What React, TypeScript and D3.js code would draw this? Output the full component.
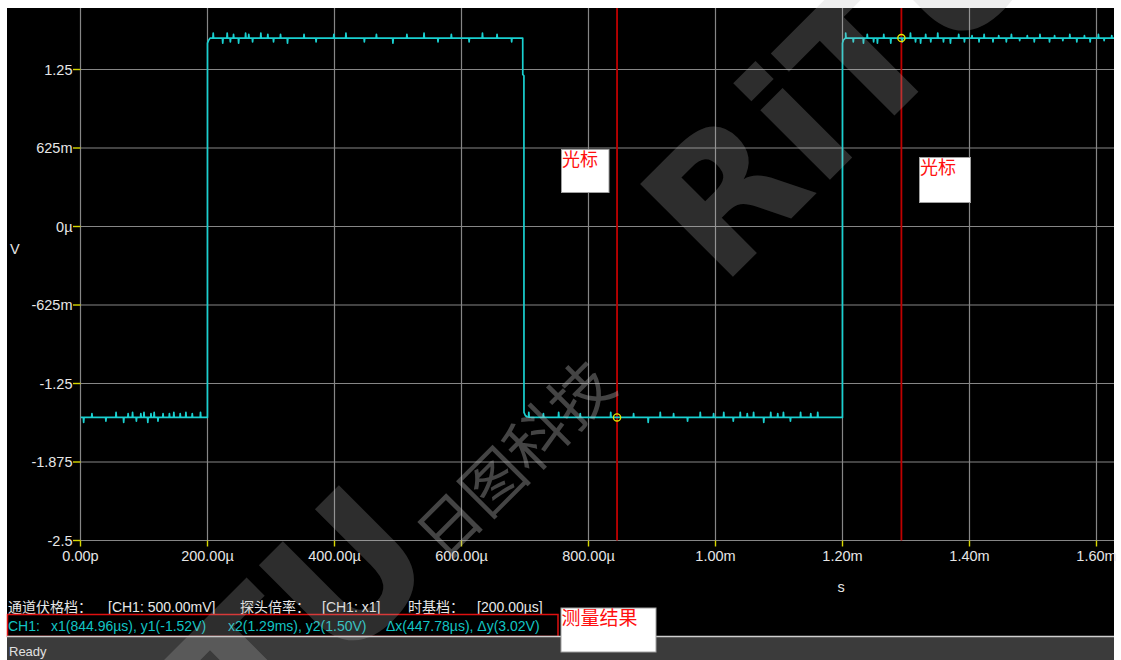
import React from "react";
import * as d3 from "d3";

const W = 1121;
const H = 660;

// Time axis (µs) and its captions
const timeTicks = [0, 200, 400, 600, 800, 1000, 1200, 1400, 1600];
const timeTickLabels = ["0.00p", "200.00µ", "400.00µ", "600.00µ", "800.00µ", "1.00m", "1.20m", "1.40m", "1.60m"];

// Voltage axis (V) and its captions
const voltTicks = [1.25, 0.625, 0, -0.625, -1.25, -1.875, -2.5];
const voltTickLabels = ["1.25", "625m", "0µ", "-625m", "-1.25", "-1.875", "-2.5"];

// CH1 square wave corner points: time (µs) and level (V)
const edgeTimes = [0, 199.9, 200.0, 201.5, 204, 696.4, 696.5, 698.3, 698.4, 700.5, 703, 711, 1199.9, 1200.0, 1201.5, 1205, 1630];
const edgeVolts = [-1.52, -1.52, 1.46, 1.48, 1.5, 1.5, 1.21, 1.2, -1.48, -1.505, -1.515, -1.52, -1.52, 1.46, 1.485, 1.5, 1.5];

// Short glitches riding on the flat parts: time (µs) and peak level (V)
const glitchTimes = [
  5, 18, 40, 56, 68, 75, 82, 88, 95, 100, 106, 111, 116, 122, 130, 140, 147, 157, 166, 176, 189,
  209, 224, 231, 236, 241, 249, 260, 265, 271, 284, 295, 304, 315, 326, 352, 371, 399, 418, 447, 466, 492, 514, 541, 563, 584, 612, 633, 656, 679,
  706, 729, 753, 787, 835, 871, 894, 913, 934, 956, 976, 997, 1013, 1028, 1039, 1050, 1060, 1076, 1087, 1098, 1107, 1118, 1134, 1150, 1161,
  1205, 1217, 1233, 1239, 1249, 1255, 1265, 1276, 1294, 1307, 1315, 1323, 1331, 1339, 1350, 1359, 1370, 1383, 1392, 1404, 1415, 1423, 1437,
  1446, 1458, 1466, 1479, 1491, 1502, 1511, 1526, 1534, 1547, 1558, 1569, 1581, 1590, 1603, 1612, 1624,
];
const glitchVolts = [
  -1.56, -1.49, -1.55, -1.48, -1.56, -1.49, -1.48, -1.55, -1.49, -1.48, -1.56, -1.49, -1.48, -1.55, -1.49, -1.49, -1.48, -1.49, -1.48, -1.49, -1.48,
  1.54, 1.46, 1.54, 1.47, 1.53, 1.46, 1.54, 1.53, 1.47, 1.54, 1.53, 1.47, 1.53, 1.46, 1.53, 1.47, 1.53, 1.54, 1.47, 1.53, 1.46, 1.53, 1.54, 1.47, 1.53, 1.47, 1.54, 1.53, 1.47,
  -1.48, -1.49, -1.48, -1.49, -1.48, -1.49, -1.56, -1.48, -1.49, -1.55, -1.48, -1.49, -1.48, -1.55, -1.48, -1.49, -1.48, -1.56, -1.48, -1.49, -1.48, -1.55, -1.48, -1.49, -1.48,
  1.54, 1.47, 1.46, 1.53, 1.47, 1.46, 1.53, 1.46, 1.47, 1.54, 1.47, 1.46, 1.53, 1.47, 1.54, 1.47, 1.46, 1.53, 1.47, 1.52, 1.47, 1.53, 1.47,
  1.52, 1.47, 1.53, 1.48, 1.52, 1.47, 1.53, 1.47, 1.52, 1.48, 1.53, 1.47, 1.52, 1.47, 1.53, 1.48, 1.52,
];

// Cursor readout
const cursorX1 = 844.96; // µs
const cursorY1 = -1.52; // V
const cursorDeltaX = 447.78; // µs
const cursorDeltaY = 3.02; // V

// Status strip texts
const infoLabels = ["通道伏格档：", "[CH1: 500.00mV]", "探头倍率：", "[CH1: x1]", "时基档：", "[200.00µs]"];
const measureLabels = ["CH1:", "x1(844.96µs), y1(-1.52V)", "x2(1.29ms), y2(1.50V)", "Δx(447.78µs), Δy(3.02V)"];
const cursorCaption = "光标";
const resultCaption = "测量结果";
const statusText = "Ready";

const SANS = "'Liberation Sans', Arial, sans-serif";
const CJK = "'Noto Sans CJK SC', 'Liberation Sans', sans-serif";

export default function App() {
  const frame = { left: 7, top: 8, right: 1114, bottom: 636 };
  const plot = { left: 80.5, top: 8, right: 1114, bottom: 540.5 };

  const x = d3.scaleLinear().domain([0, 1600]).range([80.5, 1096.5]);
  const y = d3.scaleLinear().domain([-2.5, 1.25]).range([540.5, 69.5]);

  // Baseline level at any time, piecewise through the corner points
  const levelAt = d3.scaleLinear<number, number>().domain(edgeTimes).range(edgeVolts).clamp(true);

  const pts: [number, number][] = edgeTimes.map((t, i) => [t, edgeVolts[i]]);
  glitchTimes.forEach((t, i) => {
    const base = levelAt(t);
    pts.push([t - 0.5, base], [t, glitchVolts[i]], [t + 0.6, base]);
  });
  pts.sort((a, b) => a[0] - b[0]);

  const line = d3
    .line<[number, number]>()
    .x((d) => x(d[0]))
    .y((d) => y(d[1]));

  const cursorX2 = cursorX1 + cursorDeltaX;
  const cursorY2 = cursorY1 + cursorDeltaY;
  const cursors = [
    { t: cursorX1, v: cursorY1 },
    { t: cursorX2, v: cursorY2 },
  ];

  const gridColor = "#868686";
  const tickColor = "#d8d800";
  const labelColor = "#e6e6e6";

  const infoX = [8, 108, 240, 322, 408, 477];
  const measureX = [8, 51, 228, 386];

  return (
    <svg
      width={W}
      height={H}
      viewBox={`0 0 ${W} ${H}`}
      style={{ position: "absolute", left: 0, top: 0, display: "block" }}
    >
      <defs>
        <clipPath id="plotClip">
          <rect x={plot.left} y={plot.top} width={plot.right - plot.left} height={plot.bottom - plot.top} />
        </clipPath>
      </defs>

      <rect x={0} y={0} width={W} height={H} fill="#ffffff" />
      <rect x={frame.left} y={frame.top} width={frame.right - frame.left} height={frame.bottom - frame.top} fill="#000000" />

      {/* grid */}
      {timeTicks.map((t) => (
        <line key={"gx" + t} x1={x(t)} x2={x(t)} y1={plot.top} y2={plot.bottom} stroke={gridColor} strokeWidth={1.2} />
      ))}
      {voltTicks.map((v) => (
        <line key={"gy" + v} x1={plot.left} x2={plot.right} y1={y(v)} y2={y(v)} stroke={gridColor} strokeWidth={1.2} />
      ))}

      {/* axis ticks */}
      {voltTicks.map((v) => (
        <line key={"ty" + v} x1={73} x2={plot.left} y1={y(v)} y2={y(v)} stroke={tickColor} strokeWidth={1.4} />
      ))}
      {timeTicks.map((t) => (
        <line key={"tx" + t} x1={x(t)} x2={x(t)} y1={plot.bottom} y2={plot.bottom + 6} stroke={tickColor} strokeWidth={1.4} />
      ))}

      {/* tick captions */}
      {voltTicks.map((v, i) => (
        <text key={"ly" + v} x={72.5} y={y(v) + 5} textAnchor="end" fill={labelColor} fontFamily={SANS} fontSize={14.5}>
          {voltTickLabels[i]}
        </text>
      ))}
      {timeTicks.map((t, i) => (
        <text key={"lx" + t} x={x(t)} y={560.5} textAnchor="middle" fill={labelColor} fontFamily={SANS} fontSize={14.5}>
          {timeTickLabels[i]}
        </text>
      ))}
      <text x={10} y={254} fill={labelColor} fontFamily={SANS} fontSize={14.5}>V</text>
      <text x={841} y={592} textAnchor="middle" fill={labelColor} fontFamily={SANS} fontSize={14.5}>s</text>

      {/* cursors */}
      {cursors.map((c, i) => (
        <line key={"cur" + i} x1={x(c.t)} x2={x(c.t)} y1={plot.top} y2={plot.bottom} stroke="#c00000" strokeWidth={1.8} />
      ))}

      {/* CH1 trace */}
      <g clipPath="url(#plotClip)">
        <path d={line(pts) || ""} fill="none" stroke="#19d0d0" strokeWidth={1.7} strokeLinejoin="round" />
      </g>

      {cursors.map((c, i) => (
        <circle key={"cm" + i} cx={x(c.t)} cy={y(c.v)} r={3.6} fill="none" stroke="#e6e600" strokeWidth={1.3} />
      ))}

      {/* cursor notes */}
      <rect x={561.5} y={149.5} width={47.5} height={43} fill="#ffffff" stroke="#a0a0a0" strokeWidth={1} />
      <text x={562} y={166} fill="#ff1010" fontFamily={CJK} fontSize={18}>{cursorCaption}</text>
      <rect x={919.5} y={157.5} width={51} height={45} fill="#ffffff" stroke="#a0a0a0" strokeWidth={1} />
      <text x={920} y={174} fill="#ff1010" fontFamily={CJK} fontSize={18}>{cursorCaption}</text>

      {/* status lines */}
      {infoLabels.map((s, i) => (
        <text key={"info" + i} x={infoX[i]} y={611.5} fill="#e8e8e8" fontFamily={i % 2 === 0 ? CJK : SANS} fontSize={14}>
          {s}
        </text>
      ))}
      {measureLabels.map((s, i) => (
        <text key={"meas" + i} x={measureX[i]} y={630.5} fill="#12c4c4" fontFamily={SANS} fontSize={14}>
          {s}
        </text>
      ))}
      <rect x={7.5} y={614.5} width={550.5} height={22} fill="none" stroke="#e01010" strokeWidth={1.5} />

      {/* bottom bar */}
      <rect x={frame.left} y={636} width={frame.right - frame.left} height={H - 636} fill="#3b3b3b" />
      <line x1={frame.left} x2={frame.right} y1={636.5} y2={636.5} stroke="#cfcfcf" strokeWidth={1.5} />
      <text x={9} y={656} fill="#e0e0e0" fontFamily={SANS} fontSize={13}>{statusText}</text>

      <rect x={561} y={608} width={95} height={44} fill="#ffffff" stroke="#a0a0a0" strokeWidth={1} />
      <text x={561.5} y={625} fill="#ff1010" fontFamily={CJK} fontSize={19}>{resultCaption}</text>

      {/* brand watermark laid diagonally across the screen */}
      <g transform="translate(495,495) rotate(-45)" style={{ pointerEvents: "none" }}>
        <text x={-87} y={14} textAnchor="end" fontFamily="'DejaVu Sans', sans-serif" fontWeight="bold" fontSize={180} fill="#bcbcbc" fillOpacity={0.24}>
          RiTU
        </text>
        <text x={-85} y={12} fontFamily={CJK} fontSize={62} fill="#bcbcbc" fillOpacity={0.36}>
          日图科技
        </text>
        <text x={306} y={14} fontFamily="'DejaVu Sans', sans-serif" fontWeight="bold" fontSize={180} fill="#bcbcbc" fillOpacity={0.24}>
          RiTU
        </text>
      </g>
    </svg>
  );
}
